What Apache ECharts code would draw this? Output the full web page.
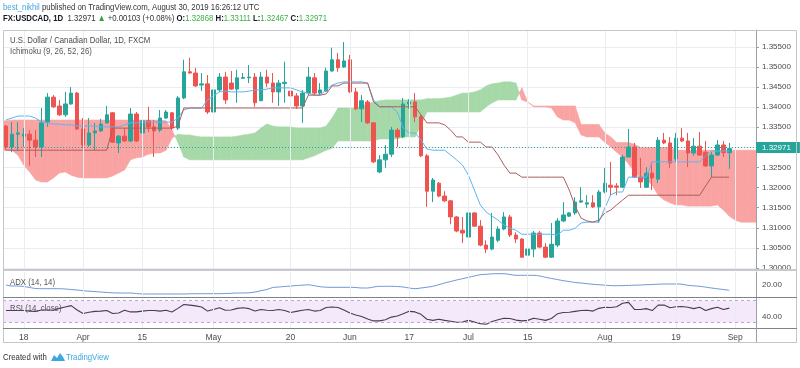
<!DOCTYPE html>
<html><head><meta charset="utf-8">
<script src="https://cdn.jsdelivr.net/npm/echarts@6/dist/echarts.min.js"></script>
<style>html,body{margin:0;padding:0;background:#fff;}#c{width:800px;height:368px;}</style>
</head><body><div id="c"></div>
<script>
const FONT = "'Liberation Sans',Arial,sans-serif";

// ---- categories (trading days) ----
const startDate = '2019-03-13';
const nBars = 127;
const tickLabels = {'2019-03-18':'18','2019-04-01':'Apr','2019-04-15':'15','2019-05-01':'May','2019-05-20':'20','2019-06-03':'Jun','2019-06-17':'17','2019-07-01':'Jul','2019-07-15':'15','2019-08-01':'Aug','2019-08-19':'19','2019-09-02':'Sep'};

// ---- OHLC ----
const open = [
1.3353,1.3301,1.3333,1.3328,1.3333,1.3318,1.3301,1.3363,1.3425,1.3403,
1.3381,1.3408,1.3435,1.3346,1.3306,1.3336,1.3341,1.3361,1.3386,1.3311,
1.3328,1.3316,1.3383,1.3336,1.3366,1.3351,1.3343,1.3373,1.3386,1.3348,
1.3423,1.3488,1.3485,1.3455,1.3458,1.3388,1.3443,1.3475,1.3460,1.3445,
1.3472,1.3473,1.3475,1.3416,1.3475,1.3460,1.3438,1.3459,1.3440,1.3428,
1.3403,1.3435,1.3473,1.3435,1.3440,1.3490,1.3518,1.3500,1.3518,1.3438,
1.3396,1.3413,1.3361,1.3239,1.3269,1.3283,1.3343,1.3326,1.3408,1.3413,
1.3376,1.3279,1.3191,1.3211,1.3179,1.3167,1.3127,1.3094,1.3077,1.3137,
1.3104,1.3057,1.3047,1.3069,1.3097,1.3127,1.3082,1.3072,1.3032,1.3047,
1.3087,1.3052,1.3027,1.3057,1.3117,1.3129,1.3137,1.3164,1.3159,1.3162,
1.3152,1.3189,1.3206,1.3204,1.3201,1.3276,1.3301,1.3226,1.3201,1.3236,
1.3221,1.3318,1.3311,1.3271,1.3323,1.3316,1.3286,1.3303,1.3288,1.3254,
1.3281,1.3306,1.32868];
const high = [
1.3356,1.3363,1.3363,1.3348,1.3343,1.3343,1.3398,1.3435,1.3430,1.3418,
1.3438,1.3450,1.3438,1.3373,1.3373,1.3361,1.3371,1.3403,1.3388,1.3331,
1.3348,1.3398,1.3388,1.3393,1.3401,1.3368,1.3393,1.3393,1.3388,1.3428,
1.3518,1.3523,1.3498,1.3485,1.3480,1.3460,1.3485,1.3488,1.3490,1.3493,
1.3485,1.3505,1.3485,1.3488,1.3493,1.3485,1.3468,1.3513,1.3450,1.3435,
1.3443,1.3500,1.3485,1.3460,1.3498,1.3548,1.3535,1.3562,1.3530,1.3448,
1.3430,1.3418,1.3363,1.3281,1.3306,1.3351,1.3348,1.3423,1.3420,1.3435,
1.3381,1.3283,1.3224,1.3214,1.3191,1.3169,1.3129,1.3127,1.3139,1.3139,
1.3119,1.3069,1.3137,1.3104,1.3139,1.3132,1.3089,1.3074,1.3052,1.3092,
1.3092,1.3062,1.3112,1.3124,1.3164,1.3139,1.3176,1.3201,1.3181,1.3181,
1.3194,1.3249,1.3264,1.3211,1.3281,1.3346,1.3311,1.3274,1.3251,1.3264,
1.3326,1.3336,1.3326,1.3336,1.3348,1.3336,1.3323,1.3338,1.3316,1.3288,
1.3318,1.3316,1.33111];
const low = [
1.3293,1.3288,1.3291,1.3301,1.3254,1.3276,1.3276,1.3351,1.3398,1.3378,
1.3376,1.3406,1.3343,1.3298,1.3301,1.3293,1.3338,1.3358,1.3311,1.3286,
1.3313,1.3313,1.3313,1.3298,1.3338,1.3276,1.3338,1.3371,1.3343,1.3343,
1.3420,1.3483,1.3450,1.3440,1.3383,1.3378,1.3438,1.3408,1.3443,1.3411,
1.3470,1.3460,1.3401,1.3416,1.3450,1.3411,1.3403,1.3411,1.3418,1.3396,
1.3361,1.3430,1.3430,1.3430,1.3438,1.3488,1.3488,1.3498,1.3435,1.3393,
1.3363,1.3358,1.3261,1.3236,1.3249,1.3276,1.3301,1.3323,1.3396,1.3363,
1.3276,1.3152,1.3164,1.3176,1.3164,1.3109,1.3089,1.3062,1.3074,1.3102,
1.3054,1.3037,1.3044,1.3064,1.3094,1.3077,1.3062,1.3025,1.3027,1.3027,
1.3049,1.3025,1.3025,1.3052,1.3114,1.3127,1.3132,1.3162,1.3149,1.3149,
1.3112,1.3186,1.3181,1.3181,1.3199,1.3276,1.3224,1.3199,1.3199,1.3194,
1.3211,1.3308,1.3249,1.3266,1.3313,1.3251,1.3279,1.3279,1.3251,1.3226,
1.3279,1.3276,1.32467];
const close = [
1.3301,1.3333,1.3336,1.3333,1.3318,1.3301,1.3361,1.3425,1.3401,1.3381,
1.3408,1.3435,1.3346,1.3306,1.3336,1.3341,1.3358,1.3381,1.3313,1.3328,
1.3316,1.3383,1.3316,1.3366,1.3351,1.3341,1.3373,1.3388,1.3348,1.3423,
1.3488,1.3485,1.3453,1.3458,1.3388,1.3443,1.3475,1.3418,1.3445,1.3473,
1.3474,1.3475,1.3411,1.3475,1.3460,1.3438,1.3460,1.3462,1.3428,1.3403,
1.3435,1.3475,1.3435,1.3443,1.3490,1.3518,1.3498,1.3515,1.3438,1.3396,
1.3416,1.3361,1.3264,1.3269,1.3283,1.3343,1.3326,1.3408,1.3413,1.3376,
1.3279,1.3191,1.3219,1.3179,1.3167,1.3127,1.3092,1.3087,1.3137,1.3104,
1.3057,1.3047,1.3077,1.3097,1.3127,1.3082,1.3072,1.3027,1.3047,1.3087,
1.3052,1.3027,1.3059,1.3117,1.3132,1.3137,1.3164,1.3167,1.3162,1.3152,
1.3189,1.3211,1.3201,1.3201,1.3276,1.3301,1.3226,1.3214,1.3236,1.3224,
1.3318,1.3311,1.3261,1.3323,1.3316,1.3286,1.3303,1.3281,1.3254,1.3281,
1.3306,1.3287,1.32971];
const lastPrice = 1.32971;

// ---- Ichimoku (9, 26, 52, 26) ----
const tenkan = [
1.3368,1.3373,1.3378,1.3378,1.3378,1.3373,1.3363,1.3361,1.3358,1.3358,
1.3356,1.3356,1.3353,1.3353,1.3353,1.3353,1.3351,1.3351,1.3351,1.3351,
1.3356,1.3361,1.3361,1.3363,1.3363,1.3363,1.3363,1.3363,1.3363,1.3373,
1.3393,1.3398,1.3398,1.3398,1.3418,1.3428,1.3438,1.3440,1.3438,1.3438,
1.3438,1.3440,1.3443,1.3443,1.3445,1.3448,1.3448,1.3448,1.3448,1.3443,
1.3438,1.3435,1.3430,1.3430,1.3443,1.3455,1.3460,1.3463,1.3463,1.3463,
1.3463,1.3460,1.3418,1.3401,1.3401,1.3401,1.3388,1.3348,1.3336,1.3336,
1.3318,1.3296,1.3293,1.3293,1.3293,1.3281,1.3269,1.3256,1.3231,1.3194,
1.3157,1.3139,1.3129,1.3119,1.3107,1.3099,1.3094,1.3084,1.3084,1.3084,
1.3084,1.3084,1.3084,1.3082,1.3094,1.3094,1.3099,1.3112,1.3114,1.3114,
1.3114,1.3149,1.3182,1.3189,1.3189,1.3226,1.3226,1.3226,1.3226,1.3264,
1.3264,1.3264,1.3264,1.3264,1.3264,1.3264,1.3264,1.3264,1.3279,1.3291,
1.3291,1.3291,1.3291];
const kijun = [
1.3293,1.3293,1.3293,1.3293,1.3293,1.3293,1.3293,1.3293,1.3293,1.3293,
1.3293,1.3293,1.3293,1.3293,1.3293,1.3293,1.3293,1.3293,1.3348,1.3348,
1.3348,1.3348,1.3348,1.3348,1.3348,1.3348,1.3348,1.3348,1.3348,1.3353,
1.3398,1.3398,1.3398,1.3398,1.3398,1.3398,1.3398,1.3398,1.3398,1.3398,
1.3398,1.3398,1.3398,1.3398,1.3398,1.3398,1.3398,1.3398,1.3398,1.3398,
1.3398,1.3430,1.3430,1.3430,1.3433,1.3453,1.3453,1.3460,1.3460,1.3460,
1.3460,1.3460,1.3413,1.3401,1.3401,1.3401,1.3401,1.3401,1.3401,1.3401,
1.3381,1.3361,1.3361,1.3361,1.3356,1.3343,1.3326,1.3326,1.3313,1.3313,
1.3313,1.3301,1.3301,1.3281,1.3256,1.3236,1.3236,1.3226,1.3226,1.3226,
1.3226,1.3226,1.3226,1.3226,1.3226,1.3194,1.3154,1.3124,1.3117,1.3114,
1.3119,1.3137,1.3144,1.3157,1.3169,1.3181,1.3181,1.3181,1.3181,1.3181,
1.3181,1.3181,1.3181,1.3181,1.3181,1.3181,1.3181,1.3181,1.3204,1.3226,
1.3226,1.3226,1.3226];
const spanA = [
1.3293,1.3293,1.3281,1.3256,1.3239,1.3219,1.3214,1.3214,1.3224,1.3236,
1.3239,1.3231,1.3226,1.3224,1.3224,1.3224,1.3224,1.3224,1.3229,1.3236,
1.3244,1.3269,1.3274,1.3276,1.3283,1.3286,1.3286,1.3293,1.3323,1.3333,
1.3331,1.3331,1.3328,1.3326,1.3326,1.3326,1.3326,1.3326,1.3326,1.3328,
1.3331,1.3333,1.3336,1.3348,1.3358,1.3353,1.3351,1.3351,1.3351,1.3348,
1.3348,1.3348,1.3348,1.3348,1.3353,1.3373,1.3398,1.3398,1.3398,1.3398,
1.3403,1.3408,1.3413,1.3416,1.3418,1.3418,1.3418,1.3418,1.3418,1.3418,
1.3418,1.3421,1.3421,1.3421,1.3423,1.3425,1.3430,1.3435,1.3435,1.3438,
1.3443,1.3453,1.3458,1.3460,1.3463,1.3463,1.3460,1.3418,1.3413,1.3401,
1.3401,1.3401,1.3398,1.3376,1.3368,1.3368,1.3361,1.3331,1.3326,1.3326,
1.3326,1.3313,1.3301,1.3288,1.3276,1.3259,1.3239,1.3224,1.3219,1.3206,
1.3181,1.3169,1.3162,1.3157,1.3157,1.3154,1.3154,1.3154,1.3154,1.3154,
1.3157,1.3144,1.3129,1.3119,1.3114,1.3114,1.3114];
const spanB = [
1.3366,1.3368,1.3368,1.3368,1.3368,1.3368,1.3368,1.3368,1.3368,1.3368,
1.3368,1.3368,1.3368,1.3368,1.3368,1.3368,1.3368,1.3368,1.3368,1.3368,
1.3368,1.3368,1.3368,1.3368,1.3368,1.3368,1.3368,1.3366,1.3343,1.3313,
1.3276,1.3269,1.3269,1.3269,1.3269,1.3269,1.3269,1.3269,1.3269,1.3269,
1.3269,1.3269,1.3269,1.3269,1.3269,1.3269,1.3269,1.3269,1.3269,1.3269,
1.3269,1.3274,1.3279,1.3286,1.3293,1.3298,1.3316,1.3316,1.3316,1.3316,
1.3316,1.3316,1.3316,1.3321,1.3321,1.3321,1.3321,1.3326,1.3326,1.3326,
1.3356,1.3388,1.3388,1.3388,1.3388,1.3388,1.3388,1.3388,1.3388,1.3388,
1.3388,1.3401,1.3411,1.3418,1.3418,1.3418,1.3418,1.3448,1.3413,1.3403,
1.3403,1.3403,1.3403,1.3403,1.3403,1.3403,1.3403,1.3357,1.3357,1.3357,
1.3357,1.3336,1.3326,1.3312,1.3312,1.3312,1.3308,1.3300,1.3300,1.3300,
1.3300,1.3300,1.3300,1.3293,1.3293,1.3293,1.3293,1.3293,1.3293,1.3293,
1.3293,1.3293,1.3293,1.3293,1.3293,1.3293,1.3293];

// ---- ADX (14, 14) ----
const adx = [
19.5,18.5,18.5,18,17,16,15.8,15.8,15.8,15.8,
15.5,15,14.5,13.8,13.3,12.9,12.5,12,11.7,11.5,
11.5,11.5,11,10.5,10.5,10.5,10.5,10.5,10.5,10.5,
10.5,10.7,10.8,10.8,10.8,10.8,10.8,11,11.2,11.5,
11.5,11.7,12.5,13.8,15,17,17.5,18,18.5,19,
19.3,19.7,18.8,17.8,17.3,17.2,17.2,17.2,17.2,17,
16.5,16.5,17.5,18.2,18.2,18.2,18,17.5,16.5,15.8,
16.5,17.3,18.2,19.8,21.5,23,24.5,25.8,27.2,28.5,
29.8,30.2,30.7,30.8,30.8,30,29.2,29.2,29.2,29.2,
28.5,27.2,26,25,23.8,23,22,21.5,20.8,20.2,
19.8,19.3,18.9,18.8,18.9,19.1,19.3,19.5,19.8,20,
20.3,20.5,20.5,20.5,20.3,19.2,18.7,18.2,17.4,16.5,
15.7,15,14.2];

// ---- RSI (14, close) ----
const rsi = [
52,52,52,52,51,50.5,53,53,52.5,56,
58.5,61,53,46.5,49,50.5,51,52,46.5,47.5,
52.5,49.5,49.5,51,52,52,51,52.5,49.5,56,
63,62,60.5,58.5,51,54,57,52.5,53,56,
57,55.5,51,54,52.5,52,54,52,48.5,50.5,
52.5,54,51,52,57.5,58.5,57.5,53,47.5,44,
41,36.5,33,33,35,40,42,46,50.5,49.5,
45,36,34,36,34,32.5,30.5,31,34,31,
28,27,32,35,38,37.5,34.5,33,34,38,
36,34,37.5,46,48.5,49,50.5,52,52.5,51,
56,58,57.5,59,65.5,67,54,54,55.5,52,
62,62,57,59,59.5,58,55.5,58,52,55.5,
58,54,56.5];

// ---------------------------------------------------------------
function weekdays(start, n){
  const out=[]; const d=new Date(start+'T00:00:00Z');
  while(out.length<n){ const w=d.getUTCDay(); if(w!==0&&w!==6) out.push(d.toISOString().slice(0,10)); d.setUTCDate(d.getUTCDate()+1); }
  return out;
}
const cats = weekdays(startDate, nBars);
const candleData = open.map((o,i)=>[o, close[i], low[i], high[i]]);
const vLines = cats.filter(c=>tickLabels[c]).map(c=>({xAxis:c}));

const UP='#26a69a', DOWN='#ef5350';
const GRIDC='#e9edf1';
const GREEN='#a6d8a8', RED='#faa3a3';
const SX=0.82; // horizontal squeeze for the narrow TradingView UI font

const L=3, R=44;
const grids=[
  {left:L,right:R,top:30,height:238},
  {left:L,right:R,top:272,height:25},
  {left:L,right:R,top:298,height:30}
];
function xAx(idx, showLabel){
  return {type:'category',gridIndex:idx,data:cats,boundaryGap:true,
    axisLine:{show:false},axisTick:{show:false},splitLine:{show:false},
    axisLabel: showLabel?{show:true,interval:0,margin:5,fontSize:8.5,color:'#4a4a4a',fontFamily:FONT,
      formatter:v=>tickLabels[v]||''}:{show:false}};
}
const axisLineStyle={show:true,lineStyle:{color:'#9aa0a6',width:1}};
const labelBase={color:'#4a4a4a',fontSize:8,fontFamily:FONT,margin:6};

function cloudRender(params, api){
  const i=api.value(0);
  const n=spanA.length;
  const w=api.size([1,0])[0];
  const ch=[];
  const poly=(pts,up)=>ch.push({type:'polygon',shape:{points:pts},style:{fill:up?GREEN:RED,stroke:up?GREEN:RED,lineWidth:0.6}});
  const a0=spanA[i], b0=spanB[i];
  const A0=api.coord([i,a0]), B0=api.coord([i,b0]);
  if(i<n-1){
    const a1=spanA[i+1], b1=spanB[i+1];
    const A1=api.coord([i+1,a1]), B1=api.coord([i+1,b1]);
    const d0=a0-b0, d1=a1-b1;
    if(d0*d1>=0){ poly([A0,A1,B1,B0], (d0+d1)>=0); }
    else{
      const t=d0/(d0-d1);
      const C=[A0[0]+t*(A1[0]-A0[0]), A0[1]+t*(A1[1]-A0[1])];
      poly([A0,C,B0], d0>0); poly([C,A1,B1], d1>0);
    }
  }
  if(i===0) poly([[A0[0]-w/2,A0[1]],A0,B0,[B0[0]-w/2,B0[1]]], a0>=b0);
  if(i===n-1) poly([A0,[A0[0]+w/2,A0[1]],[B0[0]+w/2,B0[1]],B0], a0>=b0);
  return {type:'group',children:ch};
}
function txt(x,y,text,fill,extra){
  return Object.assign({type:'text',x:x,y:y,scaleX:SX,z:100,silent:true,
    style:{text:text,fill:fill,font:'9.5px '+FONT,verticalAlign:'middle'}},extra||{});
}

const option={
  animation:false,
  backgroundColor:'#ffffff',
  grid:grids,
  xAxis:[xAx(0,false),xAx(1,false),xAx(2,true)],
  yAxis:[
    {type:'value',gridIndex:0,position:'right',min:1.30,max:1.3592,interval:0.005,
      axisLine:axisLineStyle,axisTick:{show:true,length:3,lineStyle:{color:'#9aa0a6'}},
      splitLine:{show:true,lineStyle:{color:GRIDC,width:1}},
      axisLabel:Object.assign({},labelBase,{showMaxLabel:false,formatter:v=>v.toFixed(5)})},
    {type:'value',gridIndex:1,position:'right',min:7.5,max:32.5,interval:2.5,
      axisLine:axisLineStyle,axisTick:{show:false},splitLine:{show:false},
      axisLabel:Object.assign({},labelBase,{formatter:v=>Math.abs(v-20)<1e-9?'20.00':''})},
    {type:'value',gridIndex:2,position:'right',min:20,max:75,interval:5,
      axisLine:axisLineStyle,axisTick:{show:false},splitLine:{show:false},
      axisLabel:Object.assign({},labelBase,{formatter:v=>Math.abs(v-40)<1e-9?'40.00':''})}
  ],
  series:[
    {type:'line',xAxisIndex:0,yAxisIndex:0,data:[],z:0,silent:true,
      markLine:{silent:true,symbol:'none',label:{show:false},lineStyle:{color:GRIDC,width:1,type:'solid'},data:vLines}},
    {type:'line',xAxisIndex:1,yAxisIndex:1,data:[],z:0,silent:true,
      markLine:{silent:true,symbol:'none',label:{show:false},lineStyle:{color:GRIDC,width:1,type:'solid'},data:vLines}},
    {type:'line',xAxisIndex:2,yAxisIndex:2,data:[],z:0,silent:true,
      markLine:{silent:true,symbol:'none',label:{show:false},lineStyle:{color:GRIDC,width:1,type:'solid'},data:vLines}},
    {type:'custom',xAxisIndex:0,yAxisIndex:0,z:1,silent:true,clip:true,
      data:spanA.map((a,i)=>[i,a,spanB[i]]),encode:{x:0,y:[1,2]},renderItem:cloudRender},
    {type:'candlestick',xAxisIndex:0,yAxisIndex:0,z:2,barWidth:4,data:candleData,
      itemStyle:{color:UP,color0:DOWN,borderColor:UP,borderColor0:DOWN,borderWidth:1},
      markLine:{silent:true,symbol:'none',data:[{yAxis:lastPrice}],
        lineStyle:{color:UP,type:[1,2],width:1},
        label:{show:true,position:'end',distance:0,formatter:lastPrice.toFixed(5),color:'#fff',
          backgroundColor:UP,padding:[2,9,1,6],fontSize:8,fontFamily:FONT}}},
    {type:'line',xAxisIndex:0,yAxisIndex:0,z:3,data:tenkan,showSymbol:false,
      lineStyle:{color:'#5cb5f2',width:1},silent:true},
    {type:'line',xAxisIndex:0,yAxisIndex:0,z:3,data:kijun,showSymbol:false,
      lineStyle:{color:'#b05c5c',width:1},silent:true},
    {type:'line',xAxisIndex:1,yAxisIndex:1,z:3,data:adx,showSymbol:false,smooth:0.3,
      lineStyle:{color:'#6e96d6',width:1},silent:true},
    {type:'line',xAxisIndex:2,yAxisIndex:2,data:[],z:1,silent:true,
      markArea:{silent:true,itemStyle:{color:'rgba(180,110,230,0.15)'},data:[[{yAxis:30},{yAxis:70}]]},
      markLine:{silent:true,symbol:'none',label:{show:false},lineStyle:{color:'#b9aac6',type:[3,3],width:1},
        data:[{yAxis:30},{yAxis:70}]}},
    {type:'line',xAxisIndex:2,yAxisIndex:2,z:3,data:rsi,showSymbol:false,
      lineStyle:{color:'#4d3858',width:1.1},silent:true}
  ],
  graphic:[
    {type:'rect',shape:{x:3.5,y:30.5,width:793,height:312},style:{fill:'none',stroke:'#c3c7cb',lineWidth:1},z:100,silent:true},
    {type:'line',shape:{x1:3,y1:270,x2:797,y2:270},style:{stroke:'#c6c9cd',lineWidth:2},z:100,silent:true},
    {type:'line',shape:{x1:3,y1:297.5,x2:797,y2:297.5},style:{stroke:'#7f8388',lineWidth:1},z:100,silent:true},
    {type:'line',shape:{x1:3,y1:328.5,x2:797,y2:328.5},style:{stroke:'#7f8388',lineWidth:1},z:100,silent:true},
    {type:'line',shape:{x1:756.5,y1:328,x2:756.5,y2:342},style:{stroke:'#9aa0a6',lineWidth:1},z:100,silent:true},
    {type:'text',x:3,y:7,scaleX:SX,z:100,silent:true,style:{text:'{u|best_nikhil}{n| published on TradingView.com, August 30, 2019 16:26:12 UTC}',
      verticalAlign:'middle',font:'9.5px '+FONT,
      rich:{u:{fill:'#3ea6e0',fontSize:9.5,fontFamily:FONT},n:{fill:'#333',fontSize:9.5,fontFamily:FONT}}}},
    {type:'text',x:3,y:18,scaleX:SX,z:100,silent:true,style:{
      text:'{b|FX:USDCAD, 1D}{n|  1.32971 }{g|▲}{n| +0.00103 (+0.08%) }{b|O:}{v|1.32868}{b| H:}{v|1.33111}{b| L:}{v|1.32467}{b| C:}{v|1.32971}',
      verticalAlign:'middle',font:'9.5px '+FONT,
      rich:{b:{fill:'#131722',fontWeight:'bold',fontSize:9.5,fontFamily:FONT},n:{fill:'#333',fontSize:9.5,fontFamily:FONT},
        g:{fill:'#2e9e3e',fontSize:9.5,fontFamily:FONT},v:{fill:'#3cb043',fontSize:9.5,fontFamily:FONT}}}},
    txt(10,40,'U.S. Dollar / Canadian Dollar, 1D, FXCM','#4a4a4a'),
    txt(10,51,'Ichimoku (9, 26, 52, 26)','#555'),
    txt(10,282,'ADX (14, 14)','#555'),
    txt(10,308.5,'RSI (14, close)','#555'),
    txt(3,357,'Created with','#333'),
    {type:'polygon',z:100,silent:true,shape:{points:[[51,361],[54,355],[57,358],[60,353],[63,357],[65,361]]},style:{fill:'#3ea6e0'}},
    txt(66,357,'TradingView','#3ea6e0')
  ]
};
const chart=echarts.init(document.getElementById('c'),null,{renderer:'canvas',width:800,height:368});
chart.setOption(option);
</script></body></html>
